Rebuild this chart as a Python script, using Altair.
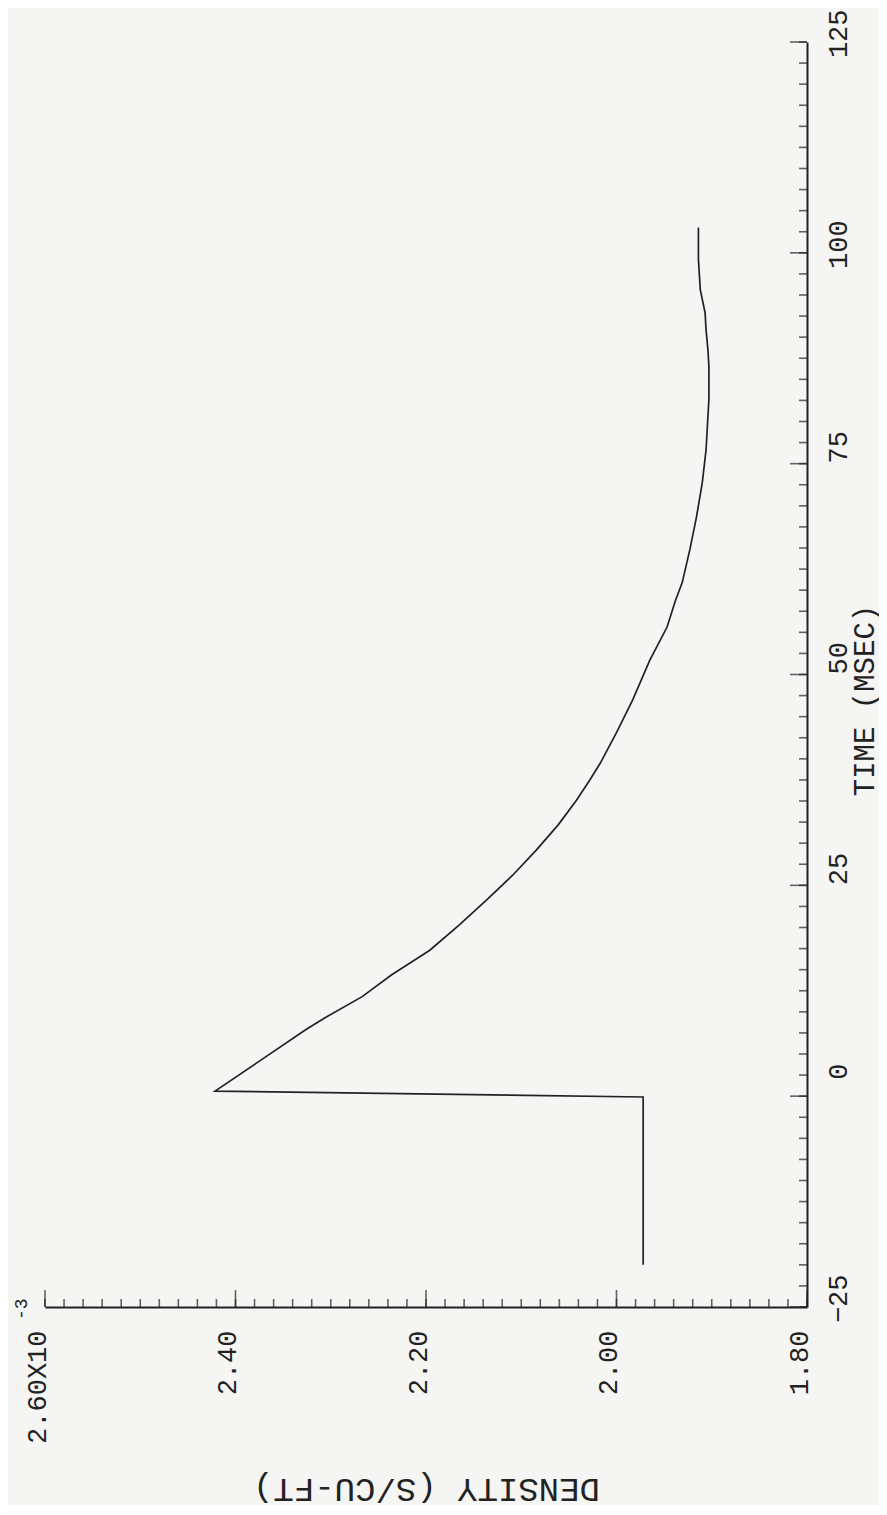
import altair as alt
import pandas as pd

# ---- data ----
time_ms = [-20.0, -0.1, 0.6, 4.3, 7.9, 9.3, 11.8, 14.4, 17.3, 20.3, 23.3, 26.2, 29.2,
           32.2, 35.1, 37.5, 39.5, 43.1, 47.0, 51.7, 55.6, 58.8, 60.9, 64.8, 68.7,
           72.7, 76.6, 78.6, 82.6, 86.5, 88.5, 90.9, 92.9, 95.6, 99.2, 103.0]
density = [1.972, 1.972, 2.4215, 2.373, 2.326, 2.306, 2.267, 2.236, 2.196, 2.165, 2.136,
           2.109, 2.084, 2.061, 2.042, 2.028, 2.017, 2.000, 1.983, 1.965, 1.947, 1.938,
           1.931, 1.923, 1.916, 1.910, 1.906, 1.905, 1.903, 1.903, 1.904, 1.906, 1.907,
           1.912, 1.914, 1.914]

time_labels = [-25, 0, 25, 50, 75, 100, 125]
density_labels = [1.8, 2.0, 2.2, 2.4, 2.6]
time_minor = [round(-25 + 2.5 * i, 2) for i in range(61)]
density_minor = [round(1.8 + 0.02 * i, 3) for i in range(41)]
exponent = ["-3"]

FONT = "Liberation Mono"
INK = "#222222"

df = pd.DataFrame({"i": list(range(len(time_ms))), "t": time_ms, "d": density})
xscale = alt.Scale(domain=[1.8, 2.6], reverse=True, nice=False, zero=False)
yscale = alt.Scale(domain=[-25, 125], nice=False, zero=False)

x_axis = alt.Axis(
    orient="bottom", values=density_labels, ticks=False, tickSize=0, grid=False,
    domainColor=INK, domainWidth=2,
    labelAngle=270, labelAlign="right", labelBaseline="alphabetic", labelPadding=23,
    labelFont=FONT, labelFontSize=27, labelColor=INK, labelFlush=False, labelOverlap=False,
    labelExpr="datum.value == 2.6 ? '2.60X10' : format(datum.value, '.2f')",
    title="DENSITY (S/CU-FT)", titleAngle=180, titleFont=FONT, titleFontSize=34,
    titleFontWeight="normal", titleColor=INK, titleX=381, titleY=171,
    titleAlign="center", titleBaseline="alphabetic")
y_axis = alt.Axis(
    orient="right", values=time_labels, ticks=False, tickSize=0, grid=False,
    domainColor=INK, domainWidth=2,
    labelAngle=270, labelAlign="right", labelBaseline="top", labelPadding=18,
    labelOffset=-33, labelFont=FONT, labelFontSize=27, labelColor=INK,
    labelFlush=False, labelOverlap=False,
    title="TIME (MSEC)", titleAngle=270, titleFont=FONT, titleFontSize=29,
    titleFontWeight="normal", titleColor=INK, titleX=72, titleY=658,
    titleAlign="center", titleBaseline="bottom")

line = alt.Chart(df).mark_line(color=INK, strokeWidth=1.7).encode(
    x=alt.X("d:Q", scale=xscale, axis=x_axis),
    y=alt.Y("t:Q", scale=yscale, axis=y_axis),
    order="i:Q",
)

t_minor = alt.Chart(pd.DataFrame({"t": time_minor})).mark_tick(
    orient="horizontal", size=8, thickness=1.6, color=INK, xOffset=-4).encode(
    y=alt.Y("t:Q", scale=yscale, axis=y_axis),
    x=alt.XDatum(1.8, scale=xscale, axis=x_axis))
t_major = alt.Chart(pd.DataFrame({"t": time_labels})).mark_tick(
    orient="horizontal", size=17, thickness=1.6, color=INK, xOffset=-8.5).encode(
    y=alt.Y("t:Q", scale=yscale, axis=y_axis),
    x=alt.XDatum(1.8, scale=xscale, axis=x_axis))
d_minor = alt.Chart(pd.DataFrame({"d": density_minor})).mark_tick(
    orient="vertical", size=8, thickness=1.6, color=INK, yOffset=-4).encode(
    x=alt.X("d:Q", scale=xscale, axis=x_axis),
    y=alt.YDatum(-25, scale=yscale, axis=y_axis))
d_major = alt.Chart(pd.DataFrame({"d": density_labels})).mark_tick(
    orient="vertical", size=17, thickness=1.6, color=INK, yOffset=-8.5).encode(
    x=alt.X("d:Q", scale=xscale, axis=x_axis),
    y=alt.YDatum(-25, scale=yscale, axis=y_axis))

sup = alt.Chart(pd.DataFrame({"s": exponent})).mark_text(
    angle=270, align="left", baseline="alphabetic", font=FONT, fontSize=18,
    color=INK, xOffset=-18, yOffset=13).encode(
    x=alt.XDatum(2.6, scale=xscale, axis=x_axis),
    y=alt.YDatum(-25, scale=yscale, axis=y_axis),
    text="s:N")

chart = alt.layer(line, t_minor, t_major, d_minor, d_major, sup).properties(
    width=762, height=1265,
    padding={"left": 37, "top": 34, "right": 72, "bottom": 198},
    autosize=alt.AutoSizeParams(type="none"),
    background="#f5f5f4",
).configure_view(stroke=None)

chart.save("out.html", embed_options={"renderer": "svg", "actions": False})
